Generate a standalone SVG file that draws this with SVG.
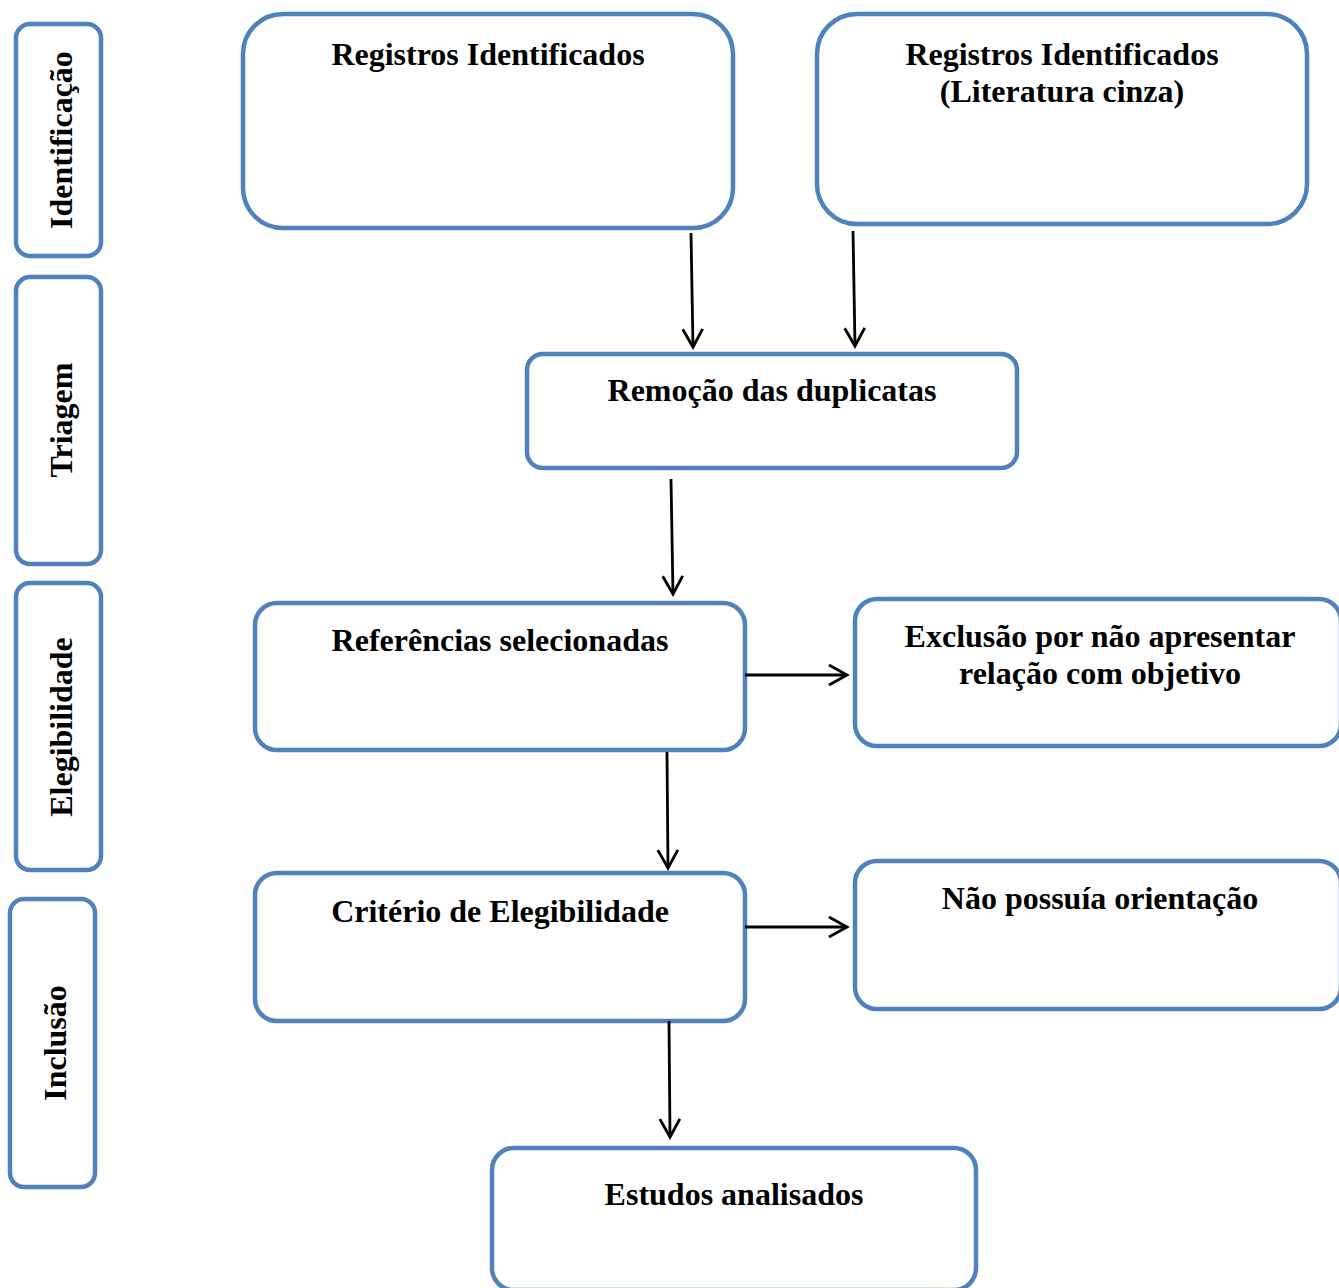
<svg xmlns="http://www.w3.org/2000/svg" width="1339" height="1288" viewBox="0 0 1339 1288">
<style>
.box{fill:#fff;stroke:#4f81bd;stroke-width:4.5}
.t{font-family:"Liberation Serif","Times New Roman",serif;font-weight:bold;font-size:32px;fill:#000;text-anchor:middle}
.c{stroke:#000;stroke-width:2.8;fill:none}
</style>
<defs>
<marker id="ah" markerWidth="24" markerHeight="24" refX="19" refY="11" orient="auto" markerUnits="userSpaceOnUse">
<path d="M1,1 L19,11 L1,21" fill="none" stroke="#000" stroke-width="2.8"/>
</marker>
</defs>
<rect width="1339" height="1288" fill="#fff"/>
<g id="lane-identificacao"><rect class="box" x="16" y="24" width="85" height="232" rx="14"/><text class="t" transform="translate(72,140) rotate(-90)">Identificação</text></g>
<g id="lane-triagem"><rect class="box" x="16" y="277" width="85" height="287" rx="14"/><text class="t" transform="translate(72,420) rotate(-90)">Triagem</text></g>
<g id="lane-elegibilidade"><rect class="box" x="16" y="583" width="85" height="287" rx="14"/><text class="t" transform="translate(72,727) rotate(-90)">Elegibilidade</text></g>
<g id="lane-inclusao"><rect class="box" x="10" y="899" width="85" height="288" rx="14"/><text class="t" transform="translate(66,1043) rotate(-90)">Inclusão</text></g>
<g id="n-registros"><rect class="box" x="243" y="14" width="490" height="214" rx="40"/><text class="t" x="488" y="65">Registros Identificados</text></g>
<g id="n-cinza"><rect class="box" x="817" y="14" width="490" height="210" rx="40"/><text class="t" x="1062" y="65">Registros Identificados</text><text class="t" x="1062" y="102">(Literatura cinza)</text></g>
<g id="n-remocao"><rect class="box" x="527" y="354" width="490" height="114" rx="16"/><text class="t" x="772" y="401">Remoção das duplicatas</text></g>
<g id="n-referencias"><rect class="box" x="255" y="603" width="490" height="147" rx="22"/><text class="t" x="500" y="651">Referências selecionadas</text></g>
<g id="n-exclusao"><rect class="box" x="855" y="599" width="486" height="147" rx="22"/><text class="t" x="1100" y="647">Exclusão por não apresentar</text><text class="t" x="1100" y="684">relação com objetivo</text></g>
<g id="n-criterio"><rect class="box" x="255" y="873" width="490" height="148" rx="22"/><text class="t" x="500" y="922">Critério de Elegibilidade</text></g>
<g id="n-naopossuia"><rect class="box" x="855" y="861" width="486" height="148" rx="22"/><text class="t" x="1100" y="909">Não possuía orientação</text></g>
<g id="n-estudos"><rect class="box" x="492" y="1148" width="484" height="142" rx="22"/><text class="t" x="734" y="1205">Estudos analisados</text></g>
<g id="connectors">
<line class="c" x1="691" y1="233" x2="693" y2="347" marker-end="url(#ah)"/>
<line class="c" x1="853" y1="231" x2="855" y2="346" marker-end="url(#ah)"/>
<line class="c" x1="671" y1="479" x2="673" y2="594" marker-end="url(#ah)"/>
<line class="c" x1="667" y1="752" x2="668" y2="868" marker-end="url(#ah)"/>
<line class="c" x1="745" y1="675" x2="847" y2="675" marker-end="url(#ah)"/>
<line class="c" x1="745" y1="927" x2="847" y2="927" marker-end="url(#ah)"/>
<line class="c" x1="669" y1="1021" x2="670" y2="1137" marker-end="url(#ah)"/>
</g>
</svg>
